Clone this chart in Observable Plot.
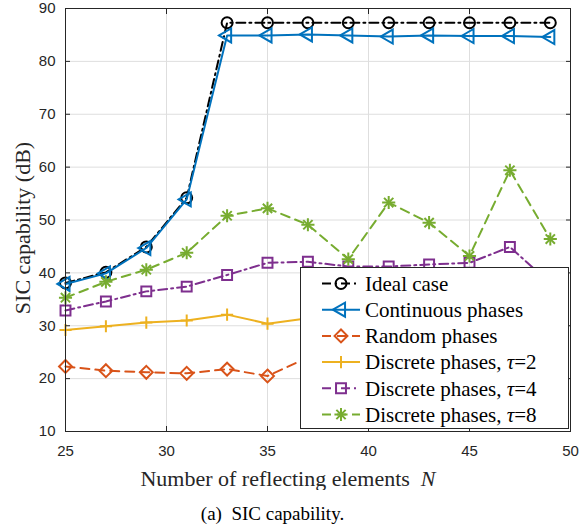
<!DOCTYPE html>
<html><head><meta charset="utf-8">
<script src="https://cdn.jsdelivr.net/npm/d3@7"></script>
<script src="https://cdn.jsdelivr.net/npm/@observablehq/plot@0.6"></script>
<style>
body{margin:0;background:#fff;}
#caption{width:545px;text-align:center;font-family:"Liberation Serif","Times New Roman",serif;font-size:19px;padding-top:13px;line-height:21px;color:#000;}
</style></head><body>
<div id="chart"></div>
<div id="caption">(a)&nbsp; SIC capability.</div>
<script>
const N = [25,27,29,31,33,35,37,39,41,43,45,47,49];
const ideal = [38.1,40.1,44.9,54.2,87.3,87.3,87.3,87.3,87.3,87.3,87.3,87.3,87.3];
const continuous = [37.9,39.9,44.7,53.9,84.9,84.9,85.1,84.9,84.7,84.9,84.8,84.8,84.6];
const randomPh = [22.3,21.5,21.2,21.0,21.8,20.5,24.0,22.5,23.0,22.2,23.0,22.1,23.0];
const tau2 = [29.2,29.9,30.6,31.0,32.1,30.4,31.4,31.0,31.8,31.4,32.3,31.7,32.0];
const tau4 = [32.9,34.6,36.5,37.4,39.6,41.9,42.1,41.2,41.2,41.6,41.9,44.9,38.0];
const tau8 = [35.3,38.3,40.6,43.8,50.8,52.2,49.1,42.6,53.3,49.5,43.2,59.4,46.4];
const xTicks = [25,30,35,40,45,50];
const yTicks = [10,20,30,40,50,60,70,80,90];
const seriesNames = ["Ideal case","Continuous phases","Random phases","Discrete phases, τ=2","Discrete phases, τ=4","Discrete phases, τ=8"];
const xLabel = "Number of reflecting elements N";
const yLabel = "SIC capability (dB)";

const styles = [
  {color:"#000000", dash:"9,4,2,4", symbols:["circle"], r:5.5, rotate:0},
  {color:"#0072BD", dash:null, symbols:["triangle"], r:5.2, rotate:-90},
  {color:"#D95319", dash:"9,6", symbols:["diamond2"], r:5.8, rotate:0},
  {color:"#EDB120", dash:null, symbols:["plus"], r:4.0, rotate:0},
  {color:"#7E2F8E", dash:"9,4,2,4", symbols:["square"], r:5.6, rotate:0},
  {color:"#77AC30", dash:"9,6", symbols:["plus","times"], r:4.3, rotate:0}
];
const allValues = [ideal, continuous, randomPh, tau2, tau4, tau8];
const serif = "Liberation Serif, Times New Roman, serif";

const marks = [
  Plot.gridX(xTicks, {stroke:"#dedede", strokeOpacity:1}),
  Plot.gridY(yTicks, {stroke:"#dedede", strokeOpacity:1})
];
allValues.forEach((vals, k) => {
  const s = styles[k];
  const data = N.map((n, i) => ({n, v: vals[i]}));
  marks.push(Plot.line(data, {x:"n", y:"v", stroke:s.color, strokeWidth:2, strokeDasharray:s.dash}));
  s.symbols.forEach(sym => {
    marks.push(Plot.dot(data, {x:"n", y:"v", symbol:sym, r:s.r, stroke:s.color, fill:"none", strokeWidth:2, rotate:s.rotate}));
  });
});
marks.push(
  Plot.frame({stroke:"#262626", strokeWidth:1}),
  Plot.axisX({anchor:"bottom", ticks:xTicks, tickSize:-5, fill:"none", stroke:"#262626", label:null}),
  Plot.axisX({anchor:"top", ticks:xTicks, tickSize:-5, fill:"none", stroke:"#262626", label:null}),
  Plot.axisY({anchor:"left", ticks:yTicks, tickSize:-5, fill:"none", stroke:"#262626", label:null}),
  Plot.axisY({anchor:"right", ticks:yTicks, tickSize:-5, fill:"none", stroke:"#262626", label:null}),
  Plot.axisX({anchor:"bottom", ticks:xTicks, tickSize:0, tickPadding:14, label:null, fill:"#262626", fontSize:15}),
  Plot.axisY({anchor:"left", ticks:yTicks, tickSize:0, tickPadding:10, label:null, fill:"#262626", fontSize:15}),
  Plot.text([xLabel], {frameAnchor:"bottom", textAnchor:"middle", lineAnchor:"middle", dx:-30, dy:47, fontSize:22, fontFamily:serif, fill:"#262626"}),
  Plot.text([yLabel], {frameAnchor:"left", textAnchor:"middle", lineAnchor:"middle", rotate:-90, dx:-43, dy:8, fontSize:22, fontFamily:serif, fill:"#262626"})
);

const chart = Plot.plot({
  width:579, height:490,
  marginLeft:65, marginRight:9, marginTop:8, marginBottom:59,
  x:{domain:[25,50]},
  y:{domain:[10,90]},
  style:{fontFamily:"Liberation Sans, Arial, sans-serif", fontSize:"15px", background:"white", color:"#262626"},
  marks
});
document.getElementById("chart").appendChild(chart);

const svg = d3.select(chart);
// italic N in x label
svg.selectAll("text").filter(function(){ return this.textContent === xLabel; }).each(function(){
  const t = d3.select(this);
  t.text(null);
  t.append("tspan").text("Number of reflecting elements\u00a0 ");
  t.append("tspan").attr("font-style","italic").text("N");
});

// legend
const symMap = {circle:d3.symbolCircle, triangle:d3.symbolTriangle, diamond2:d3.symbolDiamond2, plus:d3.symbolPlus, square:d3.symbolSquare, times:d3.symbolTimes};
const lg = svg.append("g");
lg.append("rect").attr("x",300.5).attr("y",267.5).attr("width",268).attr("height",161)
  .attr("fill","white").attr("stroke","#262626").attr("stroke-width",1);
seriesNames.forEach((name, i) => {
  const s = styles[i];
  const y = 283.5 + i*26.2;
  lg.append("line").attr("x1",322).attr("x2",360).attr("y1",y).attr("y2",y)
    .attr("stroke",s.color).attr("stroke-width",2).attr("stroke-dasharray",s.dash);
  s.symbols.forEach(sym => {
    lg.append("path").attr("d", d3.symbol(symMap[sym], Math.PI*s.r*s.r)())
      .attr("transform",`translate(341,${y}) rotate(${s.rotate})`)
      .attr("fill","none").attr("stroke",s.color).attr("stroke-width",2);
  });
  const t = lg.append("text").attr("x",365).attr("y",y).attr("dy","0.35em")
    .attr("text-anchor","start")
    .attr("font-family",serif).attr("font-size",21).attr("fill","#000");
  const m = name.match(/^(.*)τ(.*)$/);
  if (m) {
    t.append("tspan").text(m[1]);
    t.append("tspan").attr("font-style","italic").text("τ");
    t.append("tspan").text(m[2]);
  } else t.text(name);
});
</script>
</body></html>
